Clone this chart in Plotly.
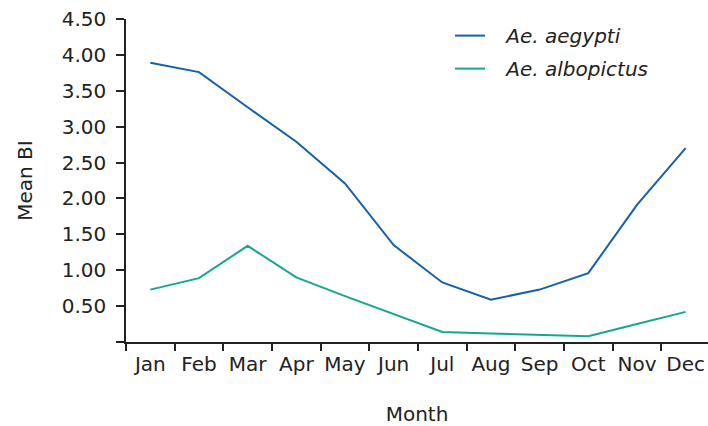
import plotly.graph_objects as go

months = ["Jan", "Feb", "Mar", "Apr", "May", "Jun", "Jul", "Aug", "Sep", "Oct", "Nov", "Dec"]
aegypti = [3.89, 3.76, 3.27, 2.79, 2.21, 1.35, 0.83, 0.59, 0.73, 0.96, 1.91, 2.70]
albopictus = [0.73, 0.89, 1.34, 0.90, 0.64, 0.39, 0.14, 0.12, 0.10, 0.08, 0.25, 0.42]
y_ticks = [0, 0.5, 1.0, 1.5, 2.0, 2.5, 3.0, 3.5, 4.0, 4.5]
y_labels = ["" if v == 0 else f"{v:.2f}" for v in y_ticks]

FONT = "'DejaVu Sans', sans-serif"
INK = "#222222"
PAD = "\u2002\u00a0"

fig = go.Figure()
fig.add_trace(go.Scatter(x=months, y=aegypti, mode="lines", name=PAD + "Ae. aegypti",
                         legendgroup="a", line=dict(color="#1560ae", width=2)))
fig.add_trace(go.Scatter(x=months, y=albopictus, mode="lines", name=PAD + "Ae. albopictus",
                         legendgroup="b", line=dict(color="#13a98b", width=2)))

fig.update_layout(
    width=708, height=426,
    margin=dict(l=126, r=0, t=19, b=84, autoexpand=False),
    paper_bgcolor="white", plot_bgcolor="white",
    font=dict(family=FONT, size=20, color=INK),
    showlegend=True,
    legend=dict(x=0.5567, y=1.009, xanchor="left", yanchor="top",
                font=dict(family=FONT, size=20, color=INK, style="italic"),
                bgcolor="rgba(0,0,0,0)", tracegroupgap=4, itemwidth=30),
    xaxis=dict(
        type="category", range=[-0.5, 11.46],
        showline=True, linecolor=INK, linewidth=1.5,
        ticks="outside", ticklen=7, tickwidth=1.5, tickcolor=INK,
        tickson="boundaries", showgrid=False, zeroline=False,
        tickangle=0, ticklabeloverflow="allow", automargin=False,
        ticklabelstandoff=3,
        tickfont=dict(size=20), fixedrange=True,
        title=dict(text="Month", font=dict(size=20), standoff=32),
    ),
    yaxis=dict(
        range=[0, 4.5], tickvals=y_ticks, ticktext=y_labels,
        showline=True, linecolor=INK, linewidth=1.5,
        ticks="outside", ticklen=8, tickwidth=1.5, tickcolor=INK,
        ticklabeloverflow="allow", automargin=False, ticklabelstandoff=6,
        showgrid=False, zeroline=False, tickfont=dict(size=20),
        title=dict(text="Mean BI", font=dict(size=20), standoff=24),
    ),
)

fig.write_html("out.html", config={"displayModeBar": False},
               post_script="document.body.style.margin='0';")
